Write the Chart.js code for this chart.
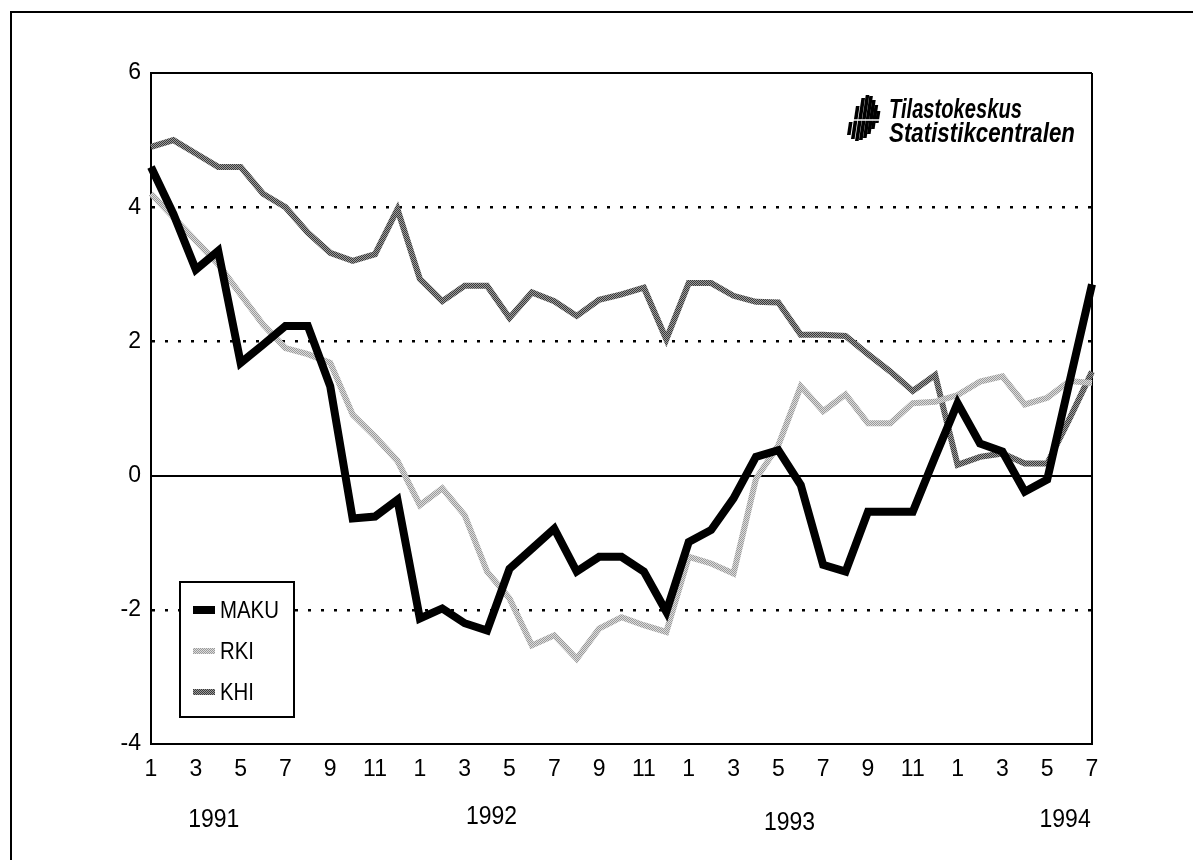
<!DOCTYPE html>
<html>
<head>
<meta charset="utf-8">
<script src="https://cdn.jsdelivr.net/npm/chart.js@4.4.1/dist/chart.umd.min.js"></script>
<style>
    body { margin: 0; background: #fff; }
</style>
</head>
<body>
<canvas id="myChart" width="1193" height="860"></canvas>
<script>
// months 1991/1 .. 1994/7
const months = [
    '1', '2', '3', '4', '5', '6', '7', '8', '9', '10', '11', '12',
    '1', '2', '3', '4', '5', '6', '7', '8', '9', '10', '11', '12',
    '1', '2', '3', '4', '5', '6', '7', '8', '9', '10', '11', '12',
    '1', '2', '3', '4', '5', '6', '7'
];
const years = ['1991', '1992', '1993', '1994'];

const maku = [4.6, 3.9, 3.07, 3.35, 1.68, 1.95, 2.23, 2.23, 1.33, -0.64, -0.61, -0.36,
    -2.13, -1.98, -2.2, -2.31, -1.39, -1.09, -0.79, -1.43, -1.21, -1.21, -1.43, -2.03,
    -0.99, -0.81, -0.34, 0.28, 0.38, -0.14, -1.33, -1.43, -0.54, -0.54, -0.54, 0.28,
    1.08, 0.48, 0.36, -0.24, -0.06, 1.4, 2.85];
const rki = [4.2, 3.85, 3.5, 3.15, 2.7, 2.25, 1.9, 1.81, 1.68, 0.91, 0.58, 0.22,
    -0.44, -0.19, -0.59, -1.43, -1.83, -2.53, -2.38, -2.73, -2.28, -2.11, -2.23, -2.33,
    -1.21, -1.31, -1.46, -0.05, 0.45, 1.33, 0.96, 1.21, 0.78, 0.78, 1.08, 1.1,
    1.2, 1.4, 1.48, 1.06, 1.16, 1.41, 1.38];
const khi = [4.9, 5.0, 4.8, 4.6, 4.6, 4.2, 4.0, 3.62, 3.32, 3.2, 3.3, 3.97,
    2.93, 2.6, 2.83, 2.83, 2.35, 2.73, 2.6, 2.38, 2.62, 2.7, 2.8, 2.03,
    2.87, 2.87, 2.68, 2.59, 2.58, 2.1, 2.1, 2.08, 1.81, 1.55, 1.26, 1.5,
    0.16, 0.28, 0.33, 0.18, 0.18, 0.85, 1.55];

const yTicks = [-4, -2, 0, 2, 4, 6];
const dotted = [4, 2, -2];

// where the year captions sit (index on the month axis) and their baseline
const yearAt = [2.8, 15.2, 28.5, 40.8];
const yearY = [827, 824, 830, 827];

const FONT = '"Liberation Sans", Arial, sans-serif';
Chart.defaults.font.family = FONT;
Chart.defaults.color = '#000';

// dithered grays like the printed original
function dither(dark, light) {
    const c = document.createElement('canvas');
    c.width = 2; c.height = 2;
    const g = c.getContext('2d');
    g.fillStyle = light; g.fillRect(0, 0, 2, 2);
    g.fillStyle = dark; g.fillRect(0, 0, 1, 1); g.fillRect(1, 1, 1, 1);
    return g.createPattern(c, 'repeat');
}

const pageFrame = {
    id: 'pageFrame',
    beforeDraw(chart) {
        const ctx = chart.ctx;
        ctx.save();
        ctx.fillStyle = '#fff';
        ctx.fillRect(0, 0, chart.width, chart.height);
        ctx.strokeStyle = '#000';
        ctx.lineWidth = 2;
        ctx.strokeRect(11, 12, 1220, 900);
        ctx.restore();
    }
};

const legendBox = {
    id: 'legendBox',
    afterDatasetsDraw(chart) {
        const ctx = chart.ctx;
        ctx.save();
        ctx.fillStyle = '#fff';
        ctx.fillRect(180, 582, 114, 135);
        ctx.strokeStyle = '#000';
        ctx.lineWidth = 2;
        ctx.strokeRect(180, 582, 114, 135);
        chart.data.datasets.forEach((ds, i) => {
            const y = 610 + i * 41;
            ctx.strokeStyle = ds.borderColor;
            ctx.lineWidth = ds.borderWidth;
            ctx.beginPath();
            ctx.moveTo(193, y);
            ctx.lineTo(215, y);
            ctx.stroke();
            ctx.fillStyle = '#000';
            ctx.font = '24px ' + FONT;
            ctx.textBaseline = 'middle';
            ctx.save();
            ctx.translate(220, y + 1);
            ctx.scale(0.85, 1);
            ctx.fillText(ds.label, 0, 0);
            ctx.restore();
        });
        ctx.restore();
    }
};

const captions = {
    id: 'captions',
    afterDraw(chart) {
        const ctx = chart.ctx;
        const x = chart.scales.x;
        ctx.save();
        ctx.fillStyle = '#000';
        ctx.font = '25px ' + FONT;
        ctx.textAlign = 'center';
        ctx.textBaseline = 'alphabetic';
        years.forEach((yr, i) => {
            ctx.save();
            ctx.translate(x.getPixelForValue(yearAt[i]), yearY[i]);
            ctx.scale(0.92, 1);
            ctx.fillText(yr, 0, 0);
            ctx.restore();
        });

        // logo
        ctx.textAlign = 'left';
        ctx.font = 'italic bold 28px ' + FONT;
        [['Tilastokeskus', 118, 133], ['Statistikcentralen', 142, 186]].forEach(([t, by, w]) => {
            const sx = w / ctx.measureText(t).width;
            ctx.save();
            ctx.translate(889, by);
            ctx.scale(sx, 1);
            ctx.fillText(t, 0, 0);
            ctx.restore();
        });
        const bars = [[847, 122, 135], [851, 106, 139], [855, 98, 141], [859, 95, 140], [863, 96, 138], [867, 100, 134], [871, 105, 129], [875, 111, 123]];
        bars.forEach(([bx, top, bot]) => {
            const skew = (bot - top) * 0.15;
            ctx.beginPath();
            ctx.moveTo(bx, bot);
            ctx.lineTo(bx + 3.6, bot);
            ctx.lineTo(bx + 3.6 + skew, top);
            ctx.lineTo(bx + skew, top);
            ctx.closePath();
            ctx.fill();
        });
        ctx.strokeStyle = '#fff';
        ctx.lineWidth = 1.5;
        ctx.beginPath();
        ctx.moveTo(846, 120);
        ctx.lineTo(882, 120);
        ctx.stroke();
        ctx.restore();
    }
};

const ctx = document.getElementById('myChart').getContext('2d');

new Chart(ctx, {
    type: 'line',
    data: {
        labels: months,
        datasets: [
            {
                label: 'MAKU',
                data: maku,
                borderColor: '#000',
                borderWidth: 8
            },
            {
                label: 'RKI',
                data: rki,
                borderColor: dither('#9a9a9a', '#dcdcdc'),
                borderWidth: 6
            },
            {
                label: 'KHI',
                data: khi,
                borderColor: dither('#3a3a3a', '#9c9c9c'),
                borderWidth: 6
            }
        ]
    },
    options: {
        responsive: false,
        animation: false,
        layout: {
            padding: { left: 0, top: 73, right: 101, bottom: 0 }
        },
        elements: {
            point: { radius: 0, hoverRadius: 0 },
            line: { tension: 0, borderJoinStyle: 'miter', borderCapStyle: 'butt' }
        },
        plugins: {
            legend: { display: false },
            tooltip: { enabled: false }
        },
        scales: {
            x: {
                offset: false,
                afterFit: (scale) => { scale.height = 116; },
                grid: {
                    drawTicks: false,
                    color: (c) => c.index === months.length - 1 ? '#000' : 'rgba(0,0,0,0)',
                    lineWidth: 2
                },
                border: { display: true, color: '#000', width: 2 },
                ticks: {
                    autoSkip: false,
                    maxRotation: 0,
                    padding: 12,
                    font: { size: 23 },
                    callback: function (val, i) {
                        return i % 2 === 0 ? months[i] : '';
                    }
                }
            },
            y: {
                min: -4,
                max: 6,
                afterFit: (scale) => { scale.width = 151; },
                afterBuildTicks: (scale) => { scale.ticks = yTicks.map(v => ({ value: v })); },
                grid: {
                    drawTicks: false,
                    color: (c) => c.tick && c.tick.value === -4 ? 'rgba(0,0,0,0)' : '#000',
                    lineWidth: (c) => c.tick && dotted.includes(c.tick.value) ? 2.5 : 2
                },
                border: {
                    display: true,
                    color: '#000',
                    width: 2,
                    dash: (c) => c.tick && dotted.includes(c.tick.value) ? [3, 10] : []
                },
                ticks: {
                    padding: 10,
                    font: { size: 23 }
                }
            }
        }
    },
    plugins: [pageFrame, legendBox, captions]
});
</script>
</body>
</html>
